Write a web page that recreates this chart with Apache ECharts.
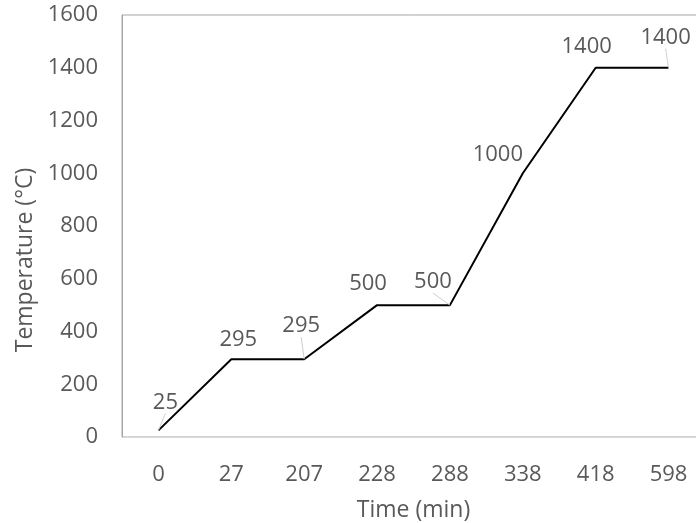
<!DOCTYPE html>
<html>
<head>
<meta charset="utf-8">
<script src="https://cdn.jsdelivr.net/npm/echarts@6/dist/echarts.min.js"></script>
<style>
  html, body { margin: 0; padding: 0; background: #fff; overflow: hidden; }
  #chart { width: 696px; height: 523px; }
</style>
</head>
<body>
<div id="chart"></div>
<script>
// Heating schedule: time stamps (min) and furnace temperature (°C)
const timeLabels = ['0', '27', '207', '228', '288', '338', '418', '598'];
const temperatures = [25, 295, 295, 500, 500, 1000, 1400, 1400];
const yTicks = [0, 200, 400, 600, 800, 1000, 1200, 1400, 1600];

// Shift of each value label from its default spot above the point
const labelShifts = [
  [7, -17], [7, -8], [-3, -22], [-9, -10], [-17, -12], [-25, -7], [-9, -10], [-3, -19]
];
// Labels that were dragged away get a faint leader line
const leaderLines = [true, false, true, false, true, false, false, true];

const font = '"Open Sans", "Noto Sans", sans-serif';
const grey = '#595959';

const chart = echarts.init(document.getElementById('chart'));
chart.setOption({
  animation: false,
  backgroundColor: '#fff',
  grid: {
    left: 122, top: 15, right: -9, bottom: 86,
    outerBoundsMode: 'none',
    containLabel: false,
    show: true, borderColor: '#a6a6a6', borderWidth: 1
  },
  xAxis: {
    type: 'category',
    data: timeLabels,
    boundaryGap: true,
    name: 'Time (min)',
    nameLocation: 'middle',
    nameGap: 62,
    nameTextStyle: { color: grey, fontSize: 23, fontFamily: font },
    axisLine: { show: true, lineStyle: { color: '#d9d9d9', width: 1 } },
    axisTick: { show: false },
    axisLabel: { color: grey, fontSize: 22, fontFamily: font, margin: 27 },
    splitLine: { show: false }
  },
  yAxis: {
    type: 'value',
    min: yTicks[0],
    max: yTicks[yTicks.length - 1],
    interval: yTicks[1] - yTicks[0],
    name: 'Temperature (°C)',
    nameLocation: 'middle',
    nameGap: 83,
    nameTextStyle: { color: grey, fontSize: 23, fontFamily: font, padding: [0, 68, 0, 0] },
    axisLine: { show: true, lineStyle: { color: '#a6a6a6', width: 1 } },
    axisTick: { show: false },
    axisLabel: {
      color: grey, fontSize: 22, fontFamily: font, margin: 24,
      formatter: v => String(v)
    },
    splitLine: { show: false }
  },
  series: [{
    type: 'line',
    data: temperatures.map((v, i) => ({
      value: v,
      labelLine: { show: leaderLines[i] }
    })),
    symbol: 'circle',
    symbolSize: 0.1,
    itemStyle: { color: '#000' },
    lineStyle: { color: '#000', width: 2 },
    label: {
      show: true,
      position: 'top',
      distance: 0,
      color: grey,
      fontSize: 22,
      fontFamily: font
    },
    labelLine: {
      lineStyle: { color: '#d0d0d0', width: 1 }
    },
    labelLayout: p => ({ dx: labelShifts[p.dataIndex][0], dy: labelShifts[p.dataIndex][1] })
  }]
});
</script>
</body>
</html>
